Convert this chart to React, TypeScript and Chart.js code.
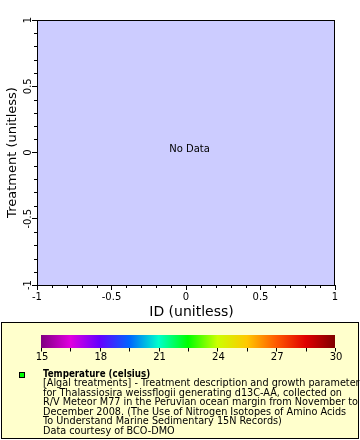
import React, { useEffect, useRef } from 'react';
import { Chart, registerables } from 'chart.js';

Chart.register(...registerables);

// ---- data ----
const X_MIN = -1;
const X_MAX = 1;
const Y_MIN = -1;
const Y_MAX = 1;
const X_MAJOR_STEP = 0.5;
const Y_MAJOR_STEP = 0.5;
const X_MINOR_TICKS = [-0.9, -0.8, -0.7, -0.6, -0.4, -0.3, -0.2, -0.1, 0.1, 0.2, 0.3, 0.4, 0.6, 0.7, 0.8, 0.9];
const Y_MINOR_TICKS = [-0.9, -0.8, -0.7, -0.6, -0.4, -0.3, -0.2, -0.1, 0.1, 0.2, 0.3, 0.4, 0.6, 0.7, 0.8, 0.9];
const X_TITLE = 'ID (unitless)';
const Y_TITLE = 'Treatment (unitless)';
const NO_DATA_TEXT = 'No Data';
const SERIES_POINTS: { x: number; y: number }[] = [];

const COLORBAR_MIN = 15;
const COLORBAR_MAX = 30;
const COLORBAR_STOP_VALUES = [15, 16.5, 18, 19.5, 21, 22.5, 24, 25.5, 27, 28.5, 30];
const COLORBAR_STOP_COLORS = ['#800080', '#e000e0', '#6400ff', '#0064ff', '#00ffcc', '#00ff00', '#ccff00', '#ffc800', '#ff5a00', '#e00000', '#800000'];
const COLORBAR_TICKS = [15, 16.5, 18, 19.5, 21, 22.5, 24, 25.5, 27, 28.5, 30];
const COLORBAR_LABELS = ['15', '18', '21', '24', '27', '30'];

const LEGEND_TITLE = 'Temperature (celsius)';
const LEGEND_LINES = [
  '[Algal treatments] - Treatment description and growth parameter',
  'for Thalassiosira weissflogii generating d13C-AA, collected on',
  'R/V Meteor M77 in the Peruvian ocean margin from November to',
  'December 2008. (The Use of Nitrogen Isotopes of Amino Acids',
  'To Understand Marine Sedimentary 15N Records)',
  'Data courtesy of BCO-DMO',
];
const MARKER_COLOR = '#00ff00';

const FONT = '"DejaVu Sans", sans-serif';
const LEGEND_FONT = '"DejaVu Sans Condensed", "DejaVu Sans", sans-serif';

const fmt = (v: number | string) => String(Math.round(Number(v) * 10) / 10);

const plotDecor = {
  id: 'plotDecor',
  beforeDraw(chart: any) {
    const { ctx, chartArea } = chart;
    ctx.save();
    ctx.fillStyle = '#ffffff';
    ctx.fillRect(0, 0, chart.width, chart.height);
    ctx.fillStyle = '#ccccff';
    ctx.fillRect(chartArea.left, chartArea.top, chartArea.right - chartArea.left, chartArea.bottom - chartArea.top);
    ctx.restore();
  },
  afterDraw(chart: any) {
    const { ctx, chartArea } = chart;
    const xs = chart.scales.x;
    const ys = chart.scales.y;
    ctx.save();
    // border
    ctx.strokeStyle = '#000';
    ctx.lineWidth = 1;
    ctx.strokeRect(chartArea.left + 0.5, chartArea.top + 0.5, chartArea.right - chartArea.left - 1, chartArea.bottom - chartArea.top);
    // minor ticks
    ctx.beginPath();
    X_MINOR_TICKS.forEach((v) => {
      const px = Math.round(xs.getPixelForValue(v)) + 0.5;
      ctx.moveTo(px, chartArea.bottom);
      ctx.lineTo(px, chartArea.bottom + 3);
    });
    Y_MINOR_TICKS.forEach((v) => {
      const py = Math.round(ys.getPixelForValue(v)) + 0.5;
      ctx.moveTo(chartArea.left, py);
      ctx.lineTo(chartArea.left - 3, py);
    });
    ctx.stroke();
    // x axis title (ERDDAP places it slightly right of centre)
    ctx.fillStyle = '#000';
    ctx.font = `14px ${FONT}`;
    ctx.textAlign = 'center';
    ctx.textBaseline = 'alphabetic';
    ctx.fillText(X_TITLE, (chartArea.left + chartArea.right) / 2 + 5.5, 316);
    // no data text
    if (SERIES_POINTS.length === 0) {
      ctx.font = `10px ${FONT}`;
      ctx.fillText(NO_DATA_TEXT, (chartArea.left + chartArea.right) / 2 + 3.5, (chartArea.top + chartArea.bottom) / 2 - 0.5);
    }

    // legend box
    const bx = 1.5, by = 322.5, bw = 357, bh = 116;
    ctx.fillStyle = '#ffffcc';
    ctx.fillRect(bx, by, bw, bh);
    ctx.strokeStyle = '#000';
    ctx.strokeRect(bx, by, bw, bh);

    // colorbar
    const cbL = 41, cbR = 335, cbT = 335, cbH = 13;
    const grad = ctx.createLinearGradient(cbL, 0, cbR, 0);
    COLORBAR_STOP_VALUES.forEach((v, i) => {
      grad.addColorStop((v - COLORBAR_MIN) / (COLORBAR_MAX - COLORBAR_MIN), COLORBAR_STOP_COLORS[i]);
    });
    ctx.fillStyle = grad;
    ctx.fillRect(cbL, cbT, cbR - cbL, cbH);
    const cbX = (v: number) => cbL + ((v - COLORBAR_MIN) / (COLORBAR_MAX - COLORBAR_MIN)) * (cbR - cbL);
    ctx.beginPath();
    COLORBAR_TICKS.forEach((v) => {
      const px = Math.round(cbX(v)) + 0.5;
      ctx.moveTo(px, cbT + cbH);
      ctx.lineTo(px, cbT + cbH + 3.5);
    });
    ctx.strokeStyle = '#000';
    ctx.stroke();
    ctx.fillStyle = '#000';
    ctx.font = `10px ${FONT}`;
    ctx.textAlign = 'center';
    ctx.textBaseline = 'alphabetic';
    COLORBAR_LABELS.forEach((l) => {
      ctx.fillText(l, cbX(parseFloat(l)) + 1, 360);
    });

    // marker
    ctx.fillStyle = MARKER_COLOR;
    ctx.fillRect(19.5, 372.5, 5, 5);
    ctx.strokeStyle = '#000';
    ctx.strokeRect(19.5, 372.5, 5, 5);

    // legend text
    ctx.fillStyle = '#000';
    ctx.textAlign = 'left';
    ctx.font = `bold 9.7px ${LEGEND_FONT}`;
    ctx.fillText(LEGEND_TITLE, 43, 377);
    ctx.font = `9.7px ${FONT}`;
    LEGEND_LINES.forEach((line, i) => {
      ctx.fillText(line, 43, 386.3 + i * 9.5);
    });
    ctx.restore();
  },
};

export default function App() {
  const ref = useRef<HTMLCanvasElement>(null);
  useEffect(() => {
    document.body.style.margin = '0';
    const chart = new Chart(ref.current as HTMLCanvasElement, {
      type: 'scatter',
      data: {
        datasets: [
          {
            label: LEGEND_TITLE,
            data: SERIES_POINTS,
            backgroundColor: MARKER_COLOR,
            borderColor: '#000',
          },
        ],
      },
      options: {
        animation: false,
        responsive: false,
        devicePixelRatio: 1,
        layout: { padding: { left: 0, top: 20, right: 25, bottom: 120 } },
        plugins: { legend: { display: false }, tooltip: { enabled: false } },
        scales: {
          x: {
            type: 'linear',
            min: X_MIN,
            max: X_MAX,
            afterFit: (s: any) => {
              s.height = 35;
              s.paddingLeft = 0;
              s.paddingRight = 0;
              s.paddingTop = 0;
              s.paddingBottom = 0;
            },
            ticks: {
              stepSize: X_MAJOR_STEP,
              color: '#000',
              padding: 1,
              maxRotation: 0,
              autoSkip: false,
              font: { family: FONT, size: 10 },
              callback: (v: any) => fmt(v),
            },
            grid: { drawOnChartArea: false, drawTicks: true, tickLength: 5, tickColor: '#000' },
            border: { display: true, color: '#000' },
            title: { display: false, text: X_TITLE },
          },
          y: {
            type: 'linear',
            min: Y_MIN,
            max: Y_MAX,
            afterFit: (s: any) => {
              s.width = 37;
              s.paddingLeft = 0;
              s.paddingRight = 0;
              s.paddingTop = 0;
              s.paddingBottom = 0;
            },
            ticks: {
              stepSize: Y_MAJOR_STEP,
              color: '#000',
              padding: -6.5,
              minRotation: 90,
              maxRotation: 90,
              crossAlign: 'center',
              autoSkip: false,
              font: { family: FONT, size: 10 },
              callback: (v: any) => fmt(v),
            },
            grid: { drawOnChartArea: false, drawTicks: true, tickLength: 5, tickColor: '#000' },
            border: { display: true, color: '#000' },
            title: {
              display: true,
              text: Y_TITLE,
              color: '#000',
              padding: { top: 4.5, bottom: 0 },
              font: { family: FONT, size: 13 },
            },
          },
        },
      },
      plugins: [plotDecor],
    } as any);
    return () => chart.destroy();
  }, []);
  return (
    <div style={{ width: 360, height: 440 }}>
      <canvas ref={ref} width={360} height={440} style={{ display: 'block' }} />
    </div>
  );
}
